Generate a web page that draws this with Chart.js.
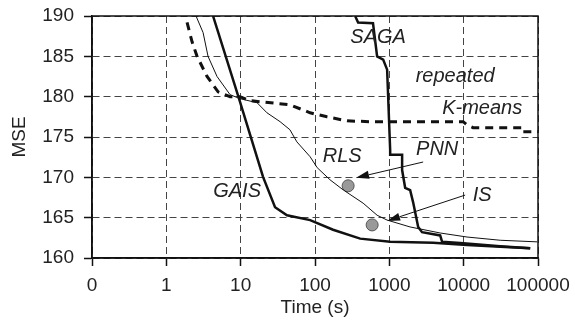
<!DOCTYPE html>
<html>
<head>
<meta charset="utf-8">
<script src="https://cdn.jsdelivr.net/npm/chart.js@4"></script>
<style>
  body { margin: 0; background: #fff; }
</style>
</head>
<body>
<canvas id="chart" width="575" height="324"></canvas>
<script>
// x = time (s), y = MSE
const gaisTime = [4.25, 9.5, 20, 29, 42, 86, 175, 405, 1025, 3880, 11100, 31000, 78500];
const gaisMse = [190, 179.75, 170.06, 166.3, 165.3, 164.7, 163.5, 162.4, 162.0, 161.9, 161.6, 161.4, 161.2];

const sagaTime = [347, 380, 603, 685, 826, 934, 1026, 1026, 1486, 1486, 1633, 1906, 2090, 2444, 2755, 4830, 5130, 8980, 31000, 78500];
const sagaMse = [190, 189.2, 189.1, 185, 184.6, 183.35, 173.4, 172.8, 172.8, 170.9, 168.7, 168.4, 166.9, 163.85, 163.2, 162.8, 162.0, 161.85, 161.45, 161.2];

const kmeansTime = [1.9, 2.22, 2.59, 3.53, 4.97, 7.2, 9.8, 13.4, 46, 86, 145, 270, 550, 9840, 11140, 13400, 61200, 61500, 100000];
const kmeansMse = [189.2, 186.8, 185.0, 182.5, 180.6, 180.0, 180.0, 179.5, 179.0, 178.0, 177.5, 177.0, 176.9, 176.9, 176.5, 176.15, 176.15, 175.65, 175.65];

const rlsTime = [2.51, 3.12, 3.64, 4.81, 7.2, 9.8, 16.6, 22.6, 33.9, 46, 57, 86, 107, 159, 239, 444, 685, 934, 1900, 4830, 11100, 31000, 98000];
const rlsMse = [190, 187.95, 185.0, 182.5, 180.25, 179.75, 179.25, 178.0, 176.9, 175.9, 174.4, 172.55, 171.2, 169.7, 168.45, 166.8, 165.3, 164.7, 163.85, 163.1, 162.6, 162.2, 162.0];

const pointNames = ['PNN', 'IS'];
const pointTime = [279, 587];
const pointMse = [168.95, 164.1];

const xTicks = [0.1, 1, 10, 100, 1000, 10000, 100000];

// annotations: [text, time, mse]
const labels = [
  ['SAGA', 706, 187.3],
  ['repeated', 7690, 182.5],
  ['K-means', 17740, 178.6],
  ['RLS', 232, 172.55],
  ['PNN', 4400, 173.4],
  ['IS', 17740, 167.8],
  ['GAIS', 8.95, 168.2]
];
// arrows: [fromTime, fromMse, toTime, toMse]
const arrows = [
  [2850, 171.9, 357, 169.95],
  [10470, 167.8, 933, 164.6]
];

const toXY = (xs, ys) => xs.map((x, i) => ({ x: x, y: ys[i] }));

const notes = {
  id: 'notes',
  afterDraw(chart) {
    const { ctx, chartArea: a, scales: { x, y } } = chart;
    ctx.save();
    ctx.setLineDash([]);
    // frame
    ctx.strokeStyle = '#111';
    ctx.lineWidth = 1.5;
    ctx.strokeRect(a.left, a.top, a.right - a.left, a.bottom - a.top);
    // arrows
    ctx.lineWidth = 1;
    ctx.fillStyle = '#111';
    arrows.forEach(([x0, y0, x1, y1]) => {
      const px0 = x.getPixelForValue(x0), py0 = y.getPixelForValue(y0);
      const px1 = x.getPixelForValue(x1), py1 = y.getPixelForValue(y1);
      const ang = Math.atan2(py1 - py0, px1 - px0);
      const len = 13, w = 4;
      const bx = px1 - len * Math.cos(ang), by = py1 - len * Math.sin(ang);
      ctx.beginPath();
      ctx.moveTo(px0, py0);
      ctx.lineTo(bx, by);
      ctx.stroke();
      ctx.beginPath();
      ctx.moveTo(px1, py1);
      ctx.lineTo(bx + w * Math.sin(ang), by - w * Math.cos(ang));
      ctx.lineTo(bx - w * Math.sin(ang), by + w * Math.cos(ang));
      ctx.closePath();
      ctx.fill();
    });
    // text
    ctx.font = 'italic 20px "Liberation Sans", Arial, sans-serif';
    ctx.textAlign = 'center';
    ctx.textBaseline = 'middle';
    ctx.fillStyle = '#222';
    labels.forEach(([t, lx, ly]) => {
      ctx.fillText(t, x.getPixelForValue(lx), y.getPixelForValue(ly));
    });
    ctx.restore();
  }
};

const lineSet = (label, xs, ys, width, dash) => ({
  label: label,
  data: toXY(xs, ys),
  showLine: true,
  borderColor: '#111',
  borderWidth: width,
  borderDash: dash || [],
  pointRadius: 0,
  fill: false,
  tension: 0
});

new Chart(document.getElementById('chart'), {
  type: 'scatter',
  data: {
    datasets: [
      lineSet('RLS', rlsTime, rlsMse, 1),
      lineSet('repeated K-means', kmeansTime, kmeansMse, 3, [8, 6]),
      lineSet('SAGA', sagaTime, sagaMse, 2.5),
      lineSet('GAIS', gaisTime, gaisMse, 2.5),
      {
        label: pointNames.join(', '),
        data: toXY(pointTime, pointMse),
        pointRadius: 6,
        pointBackgroundColor: '#999',
        pointBorderColor: '#555',
        pointBorderWidth: 1,
        showLine: false
      }
    ]
  },
  options: {
    responsive: false,
    animation: false,
    layout: { padding: { top: 16, right: 37, left: 0, bottom: 0 } },
    plugins: { legend: { display: false }, tooltip: { enabled: false } },
    scales: {
      x: {
        type: 'logarithmic',
        min: 0.1,
        max: 100000,
        afterBuildTicks: (s) => { s.ticks = xTicks.map(v => ({ value: v })); },
        afterFit: (s) => { s.height = 66; s.paddingLeft = 0; s.paddingRight = 0; },
        ticks: {
          autoSkip: false,
          maxRotation: 0,
          padding: 8,
          color: '#222',
          font: { family: '"Liberation Sans", Arial, sans-serif', size: 19 },
          callback: (v) => v === 0.1 ? '0' : String(v)
        },
        grid: { color: '#444', lineWidth: 1, tickLength: 8, tickColor: '#111', tickWidth: 1.5, tickBorderDash: [] },
        border: { color: '#111', width: 1.5, dash: [7, 4] },
        title: {
          display: true,
          text: 'Time (s)',
          color: '#222',
          padding: { top: 0, bottom: 5 },
          font: { family: '"Liberation Sans", Arial, sans-serif', size: 19 }
        }
      },
      y: {
        min: 160,
        max: 190,
        afterFit: (s) => { s.width = 92; s.paddingTop = 0; s.paddingBottom = 0; },
        ticks: {
          stepSize: 5,
          padding: 10,
          color: '#222',
          font: { family: '"Liberation Sans", Arial, sans-serif', size: 19 }
        },
        grid: { color: '#444', lineWidth: 1, tickLength: 8, tickColor: '#111', tickWidth: 1.5, tickBorderDash: [] },
        border: { color: '#111', width: 1.5, dash: [7, 4] },
        title: {
          display: true,
          text: 'MSE',
          color: '#222',
          padding: { top: 8, bottom: 0 },
          font: { family: '"Liberation Sans", Arial, sans-serif', size: 19 }
        }
      }
    }
  },
  plugins: [notes]
});
</script>
</body>
</html>
